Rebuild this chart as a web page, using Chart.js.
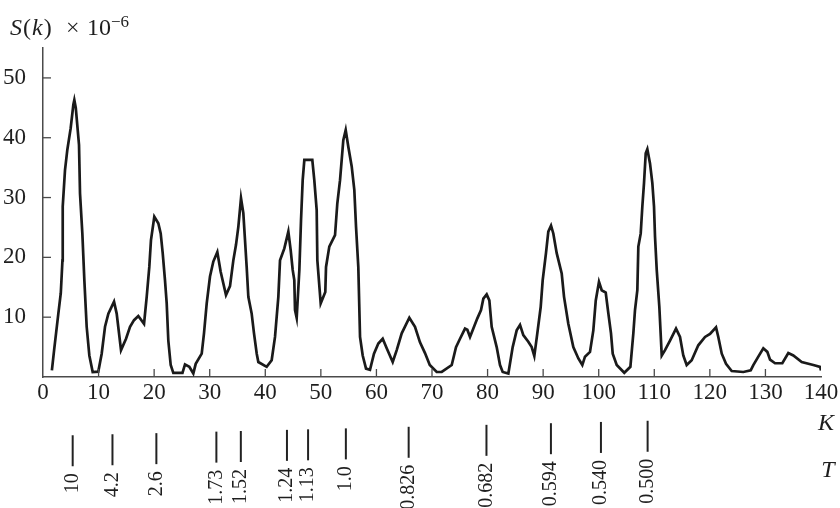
<!DOCTYPE html>
<html>
<head>
<meta charset="utf-8">
<script src="https://cdn.jsdelivr.net/npm/chart.js@4"></script>
<style>
    html, body { margin: 0; padding: 0; background: #fff; }
    #wrap { width: 840px; height: 508px; }
</style>
</head>
<body>
<div id="wrap"><canvas id="skChart"></canvas></div>
<script>
// Wave number K and spectrum S(k) x 10^-6
const kValues = [1.6, 2.0, 2.76, 3.2, 3.5, 3.55, 3.96, 4.38, 4.98, 5.46, 5.64, 5.9, 6.48, 6.66, 7.08, 7.44, 7.86, 8.34, 8.94, 9.95,
    10.56, 11.16, 11.76, 12.78, 13.26, 14.04, 14.94, 15.66, 16.38, 17.15, 18.18, 18.66, 19.13, 19.43, 20.03, 20.75, 21.18, 21.54, 21.95, 22.26,
    22.55, 22.98, 23.45, 25.1, 25.55, 26.33, 27.05, 27.48, 28.56, 28.97, 29.46, 30.05, 30.65, 31.37, 31.97, 32.93, 33.65, 34.25, 34.73, 35.15,
    35.63, 36.05, 36.35, 36.65, 36.95, 37.55, 37.97, 38.46, 38.75, 40.25, 41.15, 41.75, 42.35, 42.65, 43.43, 44.15, 44.57, 44.93, 45.22, 45.35,
    45.65, 46.13, 46.43, 46.73, 47.03, 48.46, 48.82, 49.25, 49.37, 49.97, 50.8, 50.93, 51.52, 52.55, 52.96, 53.45, 53.75, 54.04, 54.47, 54.94,
    55.55, 56.02, 56.33, 56.74, 57.05, 57.53, 58.13, 58.84, 59.56, 60.34, 61.13, 61.85, 62.93, 63.65, 64.55, 65.92, 66.94, 67.84, 68.74, 69.6,
    70.85, 71.75, 73.55, 74.32, 75.04, 75.94, 76.36, 76.84, 77.44, 78.16, 78.82, 79.24, 79.84, 80.32, 80.74, 81.64, 82.24, 82.72, 83.74, 84.52,
    85.24, 85.84, 86.43, 87.33, 87.94, 88.41, 88.95, 89.56, 89.92, 90.51, 90.93, 91.42, 91.83, 92.44, 93.34, 93.76, 94.53, 95.43, 96.34, 97.05,
    97.53, 98.43, 99.03, 99.47, 100.05, 100.54, 101.26, 101.74, 102.21, 102.52, 103.24, 104.6, 105.7, 106.23, 106.53, 106.95, 107.13, 107.56, 107.85, 108.15,
    108.46, 108.75, 109.23, 109.65, 109.95, 110.13, 110.44, 110.91, 111.34, 111.93, 112.83, 113.91, 114.63, 115.22, 115.83, 116.73, 117.92, 119.13, 120.03, 121.11,
    121.52, 122.14, 122.91, 123.93, 126.02, 127.35, 127.82, 128.72, 129.62, 130.34, 130.83, 131.73, 133.04, 134.12, 135.02, 136.53, 138.62, 139.83, 140];
const sValues = [1.1, 4.5, 10.6, 14, 19.5, 28.5, 34.6, 38, 41.6, 45.5, 46.3, 45, 38.8, 30.7, 24, 16.2, 8.4, 3.6, 0.84, 0.9,
    3.9, 8.4, 10.6, 12.6, 10.6, 4.5, 6.4, 8.4, 9.5, 10.2, 8.9, 13.4, 18.4, 22.9, 26.8, 25.7, 24, 20.7, 16.2, 12.3,
    6.1, 2, 0.7, 0.7, 2.1, 1.7, 0.6, 2.2, 3.9, 7.3, 12.3, 16.8, 19.3, 20.9, 17.6, 13.7, 15.2, 19.5, 22.1, 25.1,
    29.9, 27.4, 22.9, 18.4, 13.4, 10.6, 7.3, 3.9, 2.5, 1.7, 2.8, 6.7, 13.4, 19.5, 21.5, 24.3, 21.2, 17.9, 16.2, 11.2,
    9.9, 17.9, 26.2, 32.9, 36.3, 36.3, 32.9, 27.9, 19.5, 12.3, 14.2, 18.4, 21.8, 23.7, 29, 32.9, 36.3, 39.6, 41.3, 38.5,
    35.2, 31.3, 25.1, 18.4, 6.7, 3.6, 1.4, 1.2, 3.9, 5.6, 6.4, 4.8, 2.5, 4.5, 7.3, 9.9, 8.4, 5.8, 4.0, 2,
    0.84, 0.84, 2, 5, 6.4, 8.1, 7.9, 6.7, 8.1, 9.8, 11.2, 13.1, 13.8, 12.8, 8.4, 5, 2, 0.84, 0.57, 5,
    7.8, 8.7, 7, 5.9, 5, 3.5, 7.3, 11.7, 16.2, 20.7, 24.3, 25.3, 24, 20.7, 17.3, 13.4, 8.9, 5, 3.1, 2,
    3.4, 4.2, 7.8, 12.8, 15.9, 14.5, 14.1, 10.6, 7.3, 3.9, 2, 0.7, 1.7, 7.3, 11.2, 14.5, 21.8, 24, 28.5, 32.4,
    37.4, 38.1, 35.7, 32.4, 28.5, 23.5, 17.9, 11.7, 3.6, 4.5, 6.1, 8.1, 6.7, 3.6, 2, 2.8, 5.3, 6.7, 7.2, 8.3,
    6.7, 3.9, 2.2, 1, 0.84, 1.1, 2, 3.4, 4.8, 4.2, 2.9, 2.3, 2.3, 4, 3.6, 2.5, 2, 1.7, 1.1];

// Period markers T along the K axis
const tPositions = [5.34, 12.5, 20.4, 31.2, 35.6, 43.9, 47.7, 54.5, 65.8, 79.8, 91.4, 100.4, 108.8];
const tLabels = ['10', '4.2', '2.6', '1.73', '1.52', '1.24', '1.13', '1.0', '0.826', '0.682', '0.594', '0.540', '0.500'];

const xTicks = [0, 10, 20, 30, 40, 50, 60, 70, 80, 90, 100, 110, 120, 130, 140];
const yTicks = [10, 20, 30, 40, 50];

const serif = "'Times New Roman', 'Liberation Serif', Times, serif";
const axisColor = '#4a4a4a';
const textColor = '#1e1e1e';

// inward ticks, axis titles and T markers
const extrasPlugin = {
    id: 'extras',
    afterDraw(chart) {
        const ctx = chart.ctx;
        const area = chart.chartArea;
        const xs = chart.scales.x;
        const ys = chart.scales.y;
        ctx.save();

        ctx.strokeStyle = axisColor;
        ctx.lineWidth = 1.3;
        xTicks.slice(1, -1).forEach(v => {
            const px = xs.getPixelForValue(v);
            ctx.beginPath();
            ctx.moveTo(px, area.bottom);
            ctx.lineTo(px, area.bottom - 8);
            ctx.stroke();
        });
        yTicks.forEach(v => {
            const py = ys.getPixelForValue(v);
            ctx.beginPath();
            ctx.moveTo(area.left, py);
            ctx.lineTo(area.left + 8, py);
            ctx.stroke();
        });

        // y title: S(k) x 10^-6
        ctx.fillStyle = textColor;
        ctx.textBaseline = 'alphabetic';
        ctx.textAlign = 'left';
        let x = 10;
        [['italic 24px ' + serif, 'S'], ['24px ' + serif, '('], ['italic 24px ' + serif, 'k'], ['24px ' + serif, ')']].forEach(p => {
            ctx.font = p[0];
            ctx.fillText(p[1], x, 35);
            x += ctx.measureText(p[1]).width + 1;
        });
        ctx.font = '24px ' + serif;
        ctx.fillText('×', 66, 35);
        ctx.fillText('10', 87, 35);
        ctx.font = '17px ' + serif;
        ctx.fillText('−6', 111, 27);

        // K and T axis names
        ctx.font = 'italic 24px ' + serif;
        ctx.textAlign = 'center';
        ctx.textBaseline = 'middle';
        ctx.fillText('K', 826, 424);
        ctx.fillText('T', 828, 471);

        // T markers with rotated labels
        ctx.strokeStyle = '#222';
        ctx.lineWidth = 2;
        ctx.font = '20px ' + serif;
        tPositions.forEach((k, i) => {
            const px = xs.getPixelForValue(k);
            const top = 436 - 0.14 * k;
            const bottom = top + 31;
            ctx.beginPath();
            ctx.moveTo(px, top);
            ctx.lineTo(px, bottom);
            ctx.stroke();
            ctx.save();
            ctx.translate(px, bottom + 7);
            ctx.rotate(-Math.PI / 2);
            ctx.textAlign = 'right';
            ctx.textBaseline = 'middle';
            ctx.fillText(tLabels[i], 0, 0);
            ctx.restore();
        });

        ctx.restore();
    }
};

// Initialize chart
function initChart() {
    const ctx = document.getElementById('skChart').getContext('2d');
    new Chart(ctx, {
        type: 'line',
        data: {
            datasets: [{
                label: 'S(k)',
                data: kValues.map((k, i) => ({ x: k, y: sValues[i] })),
                borderColor: '#1a1a1a',
                borderWidth: 2.7,
                pointRadius: 0,
                tension: 0,
                fill: false
            }]
        },
        options: {
            responsive: true,
            maintainAspectRatio: false,
            animation: false,
            layout: {
                padding: { left: 0, right: 19, top: 48, bottom: 0 }
            },
            plugins: {
                legend: { display: false },
                tooltip: { enabled: false }
            },
            scales: {
                x: {
                    type: 'linear',
                    min: 0,
                    max: 140,
                    afterFit: scale => { scale.height = 131; },
                    afterBuildTicks: scale => { scale.ticks = xTicks.map(v => ({ value: v })); },
                    grid: { display: false },
                    border: { display: true, color: axisColor, width: 1.5 },
                    ticks: {
                        padding: -6,
                        color: textColor,
                        maxRotation: 0,
                        autoSkip: false,
                        font: { family: serif, size: 23 }
                    }
                },
                y: {
                    min: 0,
                    max: 55,
                    afterFit: scale => { scale.width = 43; },
                    afterBuildTicks: scale => { scale.ticks = yTicks.map(v => ({ value: v })); },
                    grid: { display: false },
                    border: { display: true, color: axisColor, width: 1.5 },
                    ticks: {
                        padding: 9,
                        color: textColor,
                        font: { family: serif, size: 23 }
                    }
                }
            }
        },
        plugins: [extrasPlugin]
    });
}

document.addEventListener('DOMContentLoaded', () => {
    initChart();
});
</script>
</body>
</html>
